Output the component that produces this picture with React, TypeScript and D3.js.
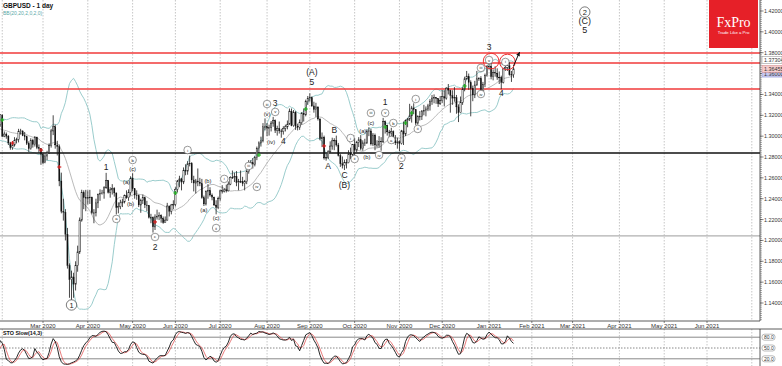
import React from 'react'
import * as d3 from 'd3'

type Candle = [number, number, number, number] // open, high, low, close

// daily candles, one array per month (weekdays only)
const jan2020: Candle[] = [
  [1.3250, 1.3285, 1.3120, 1.3150], [1.3150, 1.3155, 1.3050, 1.3085], [1.3085, 1.3180, 1.3070, 1.3155],
  [1.3155, 1.3215, 1.3100, 1.3110], [1.3110, 1.3140, 1.3070, 1.3100], [1.3100, 1.3120, 1.3050, 1.3065],
  [1.3065, 1.3120, 1.3035, 1.3060], [1.3060, 1.3070, 1.2960, 1.2990], [1.2990, 1.3045, 1.2955, 1.3020],
  [1.3020, 1.3060, 1.2995, 1.3045], [1.3045, 1.3085, 1.3025, 1.3070], [1.3070, 1.3090, 1.3000, 1.3010],
  [1.3010, 1.3025, 1.2980, 1.3000], [1.3000, 1.3070, 1.2960, 1.3045], [1.3045, 1.3135, 1.3030, 1.3120],
  [1.3120, 1.3150, 1.3080, 1.3115], [1.3115, 1.3130, 1.3045, 1.3075], [1.3075, 1.3090, 1.3040, 1.3065],
  [1.3065, 1.3070, 1.2995, 1.3010], [1.3010, 1.3045, 1.2980, 1.3005], [1.3005, 1.3120, 1.2980, 1.3110],
  [1.3110, 1.3210, 1.3090, 1.3205],
]
const feb2020: Candle[] = [
  [1.3200, 1.3210, 1.2990, 1.3000], [1.3000, 1.3045, 1.2990, 1.3020], [1.3020, 1.3035, 1.2975, 1.3000],
  [1.3000, 1.3010, 1.2915, 1.2935], [1.2935, 1.2945, 1.2870, 1.2890], [1.2890, 1.2940, 1.2870, 1.2915],
  [1.2915, 1.2990, 1.2900, 1.2960], [1.2960, 1.2985, 1.2930, 1.2970], [1.2970, 1.3070, 1.2940, 1.3045],
  [1.3045, 1.3070, 1.3015, 1.3050], [1.3050, 1.3055, 1.3000, 1.3005], [1.3005, 1.3040, 1.2960, 1.2995],
  [1.2995, 1.3005, 1.2915, 1.2930], [1.2930, 1.2950, 1.2850, 1.2880], [1.2880, 1.2980, 1.2870, 1.2960],
  [1.2960, 1.2975, 1.2890, 1.2920], [1.2920, 1.3000, 1.2900, 1.2990], [1.2990, 1.2995, 1.2875, 1.2890],
  [1.2890, 1.2920, 1.2840, 1.2880], [1.2880, 1.2885, 1.2725, 1.2825],
]
const mar2020: Candle[] = [
  [1.2825, 1.2840, 1.2730, 1.2745], [1.2745, 1.2830, 1.2740, 1.2810], [1.2810, 1.2860, 1.2770, 1.2840],
  [1.2840, 1.2930, 1.2830, 1.2910], [1.2910, 1.3070, 1.2890, 1.3050], [1.3050, 1.3200, 1.3010, 1.3090],
  [1.3090, 1.3110, 1.2880, 1.2915], [1.2915, 1.2955, 1.2815, 1.2900], [1.2900, 1.2920, 1.2520, 1.2570],
  [1.2570, 1.2650, 1.2260, 1.2280], [1.2280, 1.2400, 1.2190, 1.2270], [1.2270, 1.2300, 1.2000, 1.2060],
  [1.2060, 1.2120, 1.1730, 1.1760], [1.1760, 1.1780, 1.1450, 1.1625], [1.1625, 1.1710, 1.1409, 1.1650],
  [1.1650, 1.1690, 1.1450, 1.1580], [1.1580, 1.1800, 1.1520, 1.1760], [1.1760, 1.1950, 1.1700, 1.1890],
  [1.1890, 1.2220, 1.1870, 1.2195], [1.2195, 1.2486, 1.2180, 1.2460], [1.2460, 1.2480, 1.2300, 1.2410],
  [1.2410, 1.2485, 1.2280, 1.2405],
]
const apr2020: Candle[] = [
  [1.2405, 1.2480, 1.2345, 1.2410], [1.2410, 1.2485, 1.2350, 1.2415], [1.2415, 1.2420, 1.2250, 1.2265],
  [1.2265, 1.2300, 1.2165, 1.2265], [1.2265, 1.2400, 1.2230, 1.2360], [1.2360, 1.2450, 1.2310, 1.2440],
  [1.2440, 1.2490, 1.2380, 1.2450], [1.2450, 1.2485, 1.2440, 1.2455], [1.2455, 1.2520, 1.2400, 1.2505],
  [1.2505, 1.2648, 1.2495, 1.2575], [1.2575, 1.2580, 1.2450, 1.2460], [1.2460, 1.2510, 1.2410, 1.2485],
  [1.2485, 1.2540, 1.2440, 1.2500], [1.2500, 1.2510, 1.2420, 1.2455], [1.2455, 1.2460, 1.2250, 1.2315],
  [1.2315, 1.2365, 1.2260, 1.2325], [1.2325, 1.2390, 1.2300, 1.2360], [1.2360, 1.2400, 1.2320, 1.2370],
  [1.2370, 1.2440, 1.2355, 1.2430], [1.2430, 1.2480, 1.2400, 1.2410], [1.2410, 1.2490, 1.2380, 1.2460],
  [1.2460, 1.2615, 1.2430, 1.2595],
]
const may2020: Candle[] = [
  [1.2595, 1.2645, 1.2470, 1.2495], [1.2495, 1.2500, 1.2400, 1.2435], [1.2435, 1.2480, 1.2390, 1.2430],
  [1.2430, 1.2440, 1.2320, 1.2340], [1.2340, 1.2400, 1.2265, 1.2385], [1.2385, 1.2440, 1.2350, 1.2410],
  [1.2410, 1.2420, 1.2310, 1.2340], [1.2340, 1.2380, 1.2280, 1.2335], [1.2335, 1.2340, 1.2210, 1.2220],
  [1.2220, 1.2255, 1.2165, 1.2220], [1.2220, 1.2230, 1.2075, 1.2130], [1.2130, 1.2250, 1.2100, 1.2225],
  [1.2225, 1.2295, 1.2200, 1.2230], [1.2230, 1.2270, 1.2195, 1.2240], [1.2240, 1.2250, 1.2170, 1.2210],
  [1.2210, 1.2230, 1.2160, 1.2170], [1.2170, 1.2230, 1.2170, 1.2195], [1.2195, 1.2360, 1.2190, 1.2330],
  [1.2330, 1.2335, 1.2230, 1.2280], [1.2280, 1.2350, 1.2250, 1.2340], [1.2340, 1.2385, 1.2300, 1.2345],
]
const jun2020: Candle[] = [
  [1.2345, 1.2510, 1.2325, 1.2490], [1.2490, 1.2580, 1.2460, 1.2570], [1.2570, 1.2620, 1.2510, 1.2590],
  [1.2590, 1.2600, 1.2480, 1.2560], [1.2560, 1.2700, 1.2540, 1.2670], [1.2670, 1.2730, 1.2625, 1.2665],
  [1.2665, 1.2760, 1.2630, 1.2735], [1.2735, 1.2813, 1.2710, 1.2740], [1.2740, 1.2750, 1.2550, 1.2580],
  [1.2580, 1.2620, 1.2470, 1.2550], [1.2550, 1.2590, 1.2450, 1.2570], [1.2570, 1.2690, 1.2520, 1.2560],
  [1.2560, 1.2600, 1.2520, 1.2545], [1.2545, 1.2590, 1.2400, 1.2410], [1.2410, 1.2430, 1.2330, 1.2350],
  [1.2350, 1.2480, 1.2335, 1.2470], [1.2470, 1.2540, 1.2400, 1.2480], [1.2480, 1.2510, 1.2420, 1.2435],
  [1.2435, 1.2450, 1.2385, 1.2415], [1.2415, 1.2420, 1.2330, 1.2340], [1.2340, 1.2385, 1.2250, 1.2315],
  [1.2315, 1.2420, 1.2300, 1.2400],
]
const jul2020: Candle[] = [
  [1.2400, 1.2485, 1.2380, 1.2475], [1.2475, 1.2530, 1.2450, 1.2470], [1.2470, 1.2500, 1.2460, 1.2485],
  [1.2485, 1.2535, 1.2460, 1.2475], [1.2475, 1.2565, 1.2470, 1.2540], [1.2540, 1.2615, 1.2530, 1.2605],
  [1.2605, 1.2670, 1.2590, 1.2605], [1.2605, 1.2650, 1.2560, 1.2615], [1.2615, 1.2665, 1.2520, 1.2555],
  [1.2555, 1.2590, 1.2480, 1.2565], [1.2565, 1.2670, 1.2550, 1.2565], [1.2565, 1.2610, 1.2520, 1.2545],
  [1.2545, 1.2580, 1.2480, 1.2565], [1.2565, 1.2680, 1.2540, 1.2660], [1.2660, 1.2770, 1.2640, 1.2735],
  [1.2735, 1.2770, 1.2700, 1.2745], [1.2745, 1.2790, 1.2690, 1.2730], [1.2730, 1.2810, 1.2710, 1.2795],
  [1.2795, 1.2900, 1.2770, 1.2880], [1.2880, 1.2950, 1.2835, 1.2935], [1.2935, 1.2995, 1.2900, 1.2955],
  [1.2955, 1.3125, 1.2940, 1.3090], [1.3090, 1.3170, 1.3055, 1.3090],
]
const aug2020: Candle[] = [
  [1.3090, 1.3125, 1.3000, 1.3075], [1.3075, 1.3110, 1.3005, 1.3085], [1.3085, 1.3145, 1.3045, 1.3125],
  [1.3125, 1.3185, 1.3090, 1.3150], [1.3150, 1.3160, 1.3030, 1.3055], [1.3055, 1.3100, 1.3005, 1.3075],
  [1.3075, 1.3140, 1.3025, 1.3050], [1.3050, 1.3070, 1.2985, 1.3045], [1.3045, 1.3095, 1.3015, 1.3075],
  [1.3075, 1.3110, 1.3045, 1.3090], [1.3090, 1.3150, 1.3065, 1.3115], [1.3115, 1.3265, 1.3110, 1.3240],
  [1.3240, 1.3265, 1.3095, 1.3100], [1.3100, 1.3250, 1.3090, 1.3230], [1.3230, 1.3240, 1.3060, 1.3095],
  [1.3095, 1.3120, 1.3055, 1.3085], [1.3085, 1.3160, 1.3060, 1.3130], [1.3130, 1.3230, 1.3110, 1.3220],
  [1.3220, 1.3265, 1.3140, 1.3205], [1.3205, 1.3350, 1.3190, 1.3330], [1.3330, 1.3385, 1.3300, 1.3360],
]
const sep2020: Candle[] = [
  [1.3360, 1.3410, 1.3330, 1.3370], [1.3370, 1.3380, 1.3280, 1.3290], [1.3290, 1.3330, 1.3225, 1.3255],
  [1.3255, 1.3320, 1.3185, 1.3280], [1.3280, 1.3285, 1.3150, 1.3165], [1.3165, 1.3170, 1.2960, 1.2975],
  [1.2975, 1.3035, 1.2895, 1.2990], [1.2990, 1.3005, 1.2775, 1.2790], [1.2790, 1.2830, 1.2765, 1.2795],
  [1.2795, 1.2865, 1.2780, 1.2850], [1.2850, 1.2950, 1.2840, 1.2905], [1.2905, 1.2985, 1.2870, 1.2955],
  [1.2955, 1.2980, 1.2865, 1.2960], [1.2960, 1.3005, 1.2900, 1.2915], [1.2915, 1.2935, 1.2805, 1.2815],
  [1.2815, 1.2830, 1.2705, 1.2735], [1.2735, 1.2805, 1.2690, 1.2720], [1.2720, 1.2775, 1.2675, 1.2745],
  [1.2745, 1.2780, 1.2690, 1.2745], [1.2745, 1.2865, 1.2740, 1.2830], [1.2830, 1.2890, 1.2780, 1.2820],
  [1.2820, 1.2925, 1.2805, 1.2920],
]
const oct2020: Candle[] = [
  [1.2920, 1.2980, 1.2805, 1.2865], [1.2865, 1.2955, 1.2845, 1.2940], [1.2940, 1.2990, 1.2895, 1.2965],
  [1.2965, 1.3010, 1.2865, 1.2880], [1.2880, 1.2960, 1.2860, 1.2935], [1.2935, 1.2975, 1.2905, 1.2935],
  [1.2935, 1.3065, 1.2925, 1.3045], [1.3045, 1.3085, 1.3000, 1.3050], [1.3050, 1.3070, 1.2910, 1.2925],
  [1.2925, 1.3030, 1.2905, 1.3010], [1.3010, 1.3025, 1.2865, 1.2915], [1.2915, 1.2960, 1.2890, 1.2915],
  [1.2915, 1.3000, 1.2890, 1.2950], [1.2950, 1.2990, 1.2860, 1.2945], [1.2945, 1.3175, 1.2935, 1.3140],
  [1.3140, 1.3150, 1.3025, 1.3105], [1.3105, 1.3110, 1.3005, 1.3040], [1.3040, 1.3060, 1.2985, 1.3030],
  [1.3030, 1.3080, 1.2995, 1.3045], [1.3045, 1.3055, 1.2930, 1.2960], [1.2960, 1.3010, 1.2915, 1.2935],
  [1.2935, 1.2985, 1.2880, 1.2945],
]
const nov2020: Candle[] = [
  [1.2945, 1.2960, 1.2855, 1.2930], [1.2930, 1.3060, 1.2920, 1.3050], [1.3050, 1.3140, 1.2915, 1.3020],
  [1.3020, 1.3160, 1.3000, 1.3150], [1.3150, 1.3175, 1.3085, 1.3165], [1.3165, 1.3310, 1.3145, 1.3195],
  [1.3195, 1.3290, 1.3130, 1.3270], [1.3270, 1.3315, 1.3210, 1.3255], [1.3255, 1.3260, 1.3105, 1.3125],
  [1.3125, 1.3200, 1.3110, 1.3190], [1.3190, 1.3240, 1.3150, 1.3190], [1.3190, 1.3250, 1.3155, 1.3240],
  [1.3240, 1.3300, 1.3200, 1.3245], [1.3245, 1.3285, 1.3190, 1.3260], [1.3260, 1.3310, 1.3240, 1.3290],
  [1.3290, 1.3355, 1.3245, 1.3335], [1.3335, 1.3395, 1.3300, 1.3365], [1.3365, 1.3400, 1.3315, 1.3370],
  [1.3370, 1.3375, 1.3310, 1.3360], [1.3360, 1.3365, 1.3280, 1.3310], [1.3310, 1.3385, 1.3300, 1.3340],
]
const dec2020: Candle[] = [
  [1.3340, 1.3440, 1.3320, 1.3380], [1.3380, 1.3440, 1.3285, 1.3365], [1.3365, 1.3470, 1.3350, 1.3460],
  [1.3460, 1.3500, 1.3400, 1.3440], [1.3440, 1.3445, 1.3225, 1.3390], [1.3390, 1.3440, 1.3300, 1.3365],
  [1.3365, 1.3470, 1.3330, 1.3370], [1.3370, 1.3395, 1.3215, 1.3280], [1.3280, 1.3305, 1.3135, 1.3225],
  [1.3225, 1.3380, 1.3220, 1.3325], [1.3325, 1.3470, 1.3300, 1.3450], [1.3450, 1.3570, 1.3430, 1.3550],
  [1.3550, 1.3625, 1.3540, 1.3575], [1.3575, 1.3600, 1.3445, 1.3515], [1.3515, 1.3535, 1.3190, 1.3455],
  [1.3455, 1.3485, 1.3335, 1.3395], [1.3395, 1.3530, 1.3365, 1.3490], [1.3490, 1.3625, 1.3485, 1.3550],
  [1.3550, 1.3565, 1.3530, 1.3555], [1.3555, 1.3575, 1.3435, 1.3445], [1.3445, 1.3520, 1.3410, 1.3495],
  [1.3495, 1.3600, 1.3470, 1.3580], [1.3580, 1.3680, 1.3570, 1.3670],
]
const jan2021: Candle[] = [
  [1.3670, 1.3700, 1.3640, 1.3670], [1.3670, 1.3705, 1.3545, 1.3570], [1.3570, 1.3640, 1.3535, 1.3610],
  [1.3610, 1.3670, 1.3570, 1.3605], [1.3605, 1.3650, 1.3540, 1.3565], [1.3565, 1.3620, 1.3500, 1.3565],
  [1.3565, 1.3580, 1.3450, 1.3515], [1.3515, 1.3655, 1.3505, 1.3645], [1.3645, 1.3710, 1.3625, 1.3660],
  [1.3660, 1.3710, 1.3625, 1.3675], [1.3675, 1.3710, 1.3580, 1.3590], [1.3590, 1.3625, 1.3520, 1.3590],
  [1.3590, 1.3675, 1.3560, 1.3645],
]

const months = [jan2020, feb2020, mar2020, apr2020, may2020, jun2020, jul2020, aug2020,
  sep2020, oct2020, nov2020, dec2020, jan2021]

const priceTicks = [1.14, 1.16, 1.18, 1.2, 1.22, 1.24, 1.26, 1.28, 1.3, 1.32, 1.34, 1.36, 1.38, 1.4, 1.42]
const gridMonths = ['2020-02', '2020-03', '2020-04', '2020-05', '2020-06', '2020-07', '2020-08', '2020-09',
  '2020-10', '2020-11', '2020-12', '2021-01', '2021-02', '2021-03', '2021-04', '2021-05', '2021-06', '2021-07']
const monthLabels = ['', 'Mar 2020', 'Apr 2020', 'May 2020', 'Jun 2020', 'Jul 2020', 'Aug 2020', 'Sep 2020',
  'Oct 2020', 'Nov 2020', 'Dec 2020', 'Jan 2021', 'Feb 2021', 'Mar 2021', 'Apr 2021', 'May 2021', 'Jun 2021', '']

const redLevels = [1.3797, 1.3701, 1.3452]
const blackLevel = 1.2839
const grayLevel = 1.2043
const stoLevels = [80, 50, 20]

// wave labels: date, price, text, kind
const waves: [string, number, string, string][] = [
  ['2020-03-20', 1.1381, '1', 'cbig'],
  ['2020-04-14', 1.2704, '1', 'big'],
  ['2020-04-21', 1.2206, 'a', 'circ'],
  ['2020-04-28', 1.2560, '(a)', 'par'],
  ['2020-04-30', 1.2350, '(b)', 'par'],
  ['2020-05-01', 1.2771, 'b', 'circ'],
  ['2020-05-01', 1.2685, '(c)', 'par'],
  ['2020-05-18', 1.2033, 'c', 'circ'],
  ['2020-05-18', 1.1937, '2', 'big'],
  ['2020-06-09', 1.2867, 'i', 'circ'],
  ['2020-06-19', 1.2292, '(a)', 'par'],
  ['2020-06-23', 1.2570, '(b)', 'par'],
  ['2020-06-29', 1.2215, '(c)', 'par'],
  ['2020-06-29', 1.2119, 'ii', 'circ'],
  ['2020-07-03', 1.2590, 'i', 'circ'],
  ['2020-07-21', 1.2714, 'iii', 'circ'],
  ['2020-07-27', 1.2513, 'iv', 'circ'],
  ['2020-08-03', 1.3308, 'iii', 'circ'],
  ['2020-08-07', 1.3318, '3', 'big'],
  ['2020-08-03', 1.3213, '(v)', 'par'],
  ['2020-08-07', 1.3232, 'v', 'circ'],
  ['2020-08-05', 1.2944, '(iv)', 'par'],
  ['2020-08-13', 1.2954, '4', 'big'],
  ['2020-09-02', 1.3615, '(A)', 'big'],
  ['2020-09-02', 1.3519, '5', 'big'],
  ['2020-09-14', 1.2714, 'A', 'big'],
  ['2020-09-17', 1.3059, 'B', 'big'],
  ['2020-09-24', 1.2628, 'C', 'big'],
  ['2020-09-24', 1.2532, '(B)', 'big'],
  ['2020-09-29', 1.2982, 'i', 'circ'],
  ['2020-10-01', 1.2781, 'ii', 'circ'],
  ['2020-10-07', 1.3049, '(a)', 'par'],
  ['2020-10-09', 1.2800, '(b)', 'par'],
  ['2020-10-13', 1.3126, '(c)', 'par'],
  ['2020-10-13', 1.3222, 'iii', 'circ'],
  ['2020-10-19', 1.2819, 'iv', 'circ'],
  ['2020-10-22', 1.3327, '1', 'big'],
  ['2020-10-22', 1.3222, 'v', 'circ'],
  ['2020-10-27', 1.2963, 'a', 'circ'],
  ['2020-10-28', 1.3126, 'b', 'circ'],
  ['2020-11-03', 1.2791, 'c', 'circ'],
  ['2020-11-03', 1.2714, '2', 'big'],
  ['2020-11-12', 1.3356, 'i', 'circ'],
  ['2020-11-13', 1.3069, 'ii', 'circ'],
  ['2020-12-28', 1.3654, 'iii', 'circ'],
  ['2020-12-28', 1.3404, 'iv', 'circ'],
  ['2021-01-01', 1.3855, '3', 'big'],
  ['2021-01-01', 1.3730, 'v', 'circ'],
  ['2021-01-11', 1.3414, '4', 'big'],
  ['2021-01-13', 1.3711, 'i', 'circ'],
  ['2021-03-09', 1.4190, '2', 'cbig'],
  ['2021-03-09', 1.4104, '(C)', 'big2'],
  ['2021-03-09', 1.4018, '5', 'big2'],
]

// signal markers: colour, date, price
const markers: [string, string, number][] = [
  ['g', '2020-02-03', 1.3155], ['r', '2020-02-10', 1.2934], ['r', '2020-02-28', 1.2867],
  ['r', '2020-03-12', 1.2704], ['r', '2020-05-18', 1.2177], ['g', '2020-06-01', 1.2455],
  ['g', '2020-07-28', 1.2819], ['g', '2020-08-28', 1.3260], ['r', '2020-09-10', 1.2906],
  ['g', '2020-10-22', 1.3088], ['g', '2020-11-05', 1.3126], ['g', '2020-11-10', 1.3222],
  ['g', '2020-12-16', 1.3481],
]

const redCircles: [string, number][] = [['2021-01-04', 1.3720], ['2021-01-14', 1.3711]]
const arrowPts: [string, number][] = [['2021-01-19', 1.3673], ['2021-01-22', 1.3807]]

// weekday calendar from 2 Jan 2020
const days: string[] = []
{
  let t = Date.UTC(2020, 0, 2)
  while (days.length < 400) {
    const d = new Date(t)
    if (d.getUTCDay() !== 0 && d.getUTCDay() !== 6) days.push(d.toISOString().slice(0, 10))
    t += 86400000
  }
}
const idxOf = new Map(days.map((d, i) => [d, i]))
const idx = (d: string) => idxOf.get(d) as number

const candles = months.flat()
const closes = candles.map(c => c[3])

// Bollinger bands 20, 2
const bb = candles.map((c, i) => {
  if (i < 19) return null
  const w = closes.slice(i - 19, i + 1)
  const m = d3.mean(w) as number
  const sd = Math.sqrt(d3.mean(w, v => (v - m) * (v - m)) as number)
  return { i, m, up: m + 2 * sd, lo: m - 2 * sd }
}).filter(Boolean) as { i: number; m: number; up: number; lo: number }[]

// slow stochastic 14,3
const hh = candles.map((c, i) => i < 13 ? NaN : (d3.max(candles.slice(i - 13, i + 1), d => d[1]) as number))
const ll = candles.map((c, i) => i < 13 ? NaN : (d3.min(candles.slice(i - 13, i + 1), d => d[2]) as number))
const kLine: { i: number; v: number }[] = []
for (let i = 15; i < candles.length; i++) {
  let num = 0, den = 0
  for (let j = i - 2; j <= i; j++) { num += closes[j] - ll[j]; den += hh[j] - ll[j] }
  kLine.push({ i, v: den ? (100 * num) / den : 50 })
}
const dLine = kLine.slice(2).map((k, n) => ({ i: k.i, v: (kLine[n].v + kLine[n + 1].v + k.v) / 3 }))

const W = 782
const H = 366
const right = 760
const mainBottom = 321
const stoTop = 329

const x = d3.scaleLinear().domain([idx('2020-03-02'), idx('2021-06-01')]).range([43, 707])
const y = d3.scaleLinear().domain([1.14, 1.42]).range([303, 11])
const ys = d3.scaleLinear().domain([0, 100]).range([366, 330])

const FONT = '"Liberation Sans", Arial, sans-serif'

function Wave({ d, p, t, k }: { d: string; p: number; t: string; k: string }) {
  const cx = x(idx(d))
  const cy = y(p)
  if (k === 'circ') {
    return (
      <g>
        <circle cx={cx} cy={cy} r={3.8} fill="#fff" stroke="#555" strokeWidth={0.6} />
        <text x={cx} y={cy + 1.5} fontSize={4.2} textAnchor="middle" fill="#222">{t}</text>
      </g>
    )
  }
  if (k === 'cbig') {
    return (
      <g>
        <circle cx={cx} cy={cy} r={5.2} fill="#fff" stroke="#444" strokeWidth={0.7} />
        <text x={cx} y={cy + 2.6} fontSize={7.5} textAnchor="middle" fill="#222">{t}</text>
      </g>
    )
  }
  const fs = k === 'par' ? 5.8 : k === 'big2' ? 9 : 8.5
  return <text x={cx} y={cy + fs * 0.36} fontSize={fs} textAnchor="middle" fill="#222">{t}</text>
}

export default function App() {
  const bw = 1.3
  const minor = d3.range(1.124, 1.431, 0.002)
  const lineM = d3.line<{ i: number; m: number }>().x(d => x(d.i)).y(d => y(d.m))
  const lineU = d3.line<{ i: number; up: number }>().x(d => x(d.i)).y(d => y(d.up))
  const lineL = d3.line<{ i: number; lo: number }>().x(d => x(d.i)).y(d => y(d.lo))
  const stoL = d3.line<{ i: number; v: number }>().x(d => x(d.i)).y(d => ys(d.v))
  const gridX = gridMonths.map(m => x(days.findIndex(d => d.startsWith(m))))
  const a0x = x(idx(arrowPts[0][0])), a0y = y(arrowPts[0][1])
  const a1x = x(idx(arrowPts[1][0])), a1y = y(arrowPts[1][1])
  const ang = Math.atan2(a1y - a0y, a1x - a0x)
  const head = [
    [a1x, a1y],
    [a1x - 4 * Math.cos(ang) + 2 * Math.sin(ang), a1y - 4 * Math.sin(ang) - 2 * Math.cos(ang)],
    [a1x - 4 * Math.cos(ang) - 2 * Math.sin(ang), a1y - 4 * Math.sin(ang) + 2 * Math.cos(ang)],
  ]

  return (
    <svg width={W} height={H} style={{ position: 'absolute', left: 0, top: 0, background: '#fff' }}
      fontFamily={FONT}>
      <defs>
        <clipPath id="main"><rect x={0} y={0} width={right} height={mainBottom} /></clipPath>
        <clipPath id="sto"><rect x={0} y={stoTop} width={right} height={H - stoTop} /></clipPath>
      </defs>

      {/* month grid */}
      {gridX.map((gx, i) => (
        <g key={i} stroke="#b8b8b8" strokeWidth={0.8} strokeDasharray="1.5,1.5">
          <line x1={gx} x2={gx} y1={0} y2={mainBottom} />
          <line x1={gx} x2={gx} y1={stoTop} y2={H} />
        </g>
      ))}

      <g clipPath="url(#main)">
        {/* Bollinger bands */}
        <path d={lineM(bb) || ''} fill="none" stroke="#a8a8a8" strokeWidth={0.8} />
        <path d={lineU(bb) || ''} fill="none" stroke="#8ec6c6" strokeWidth={0.9} />
        <path d={lineL(bb) || ''} fill="none" stroke="#8ec6c6" strokeWidth={0.9} />

        {/* levels */}
        {redLevels.map((p, i) => (
          <line key={i} x1={0} x2={right} y1={y(p)} y2={y(p)} stroke="#f03a3a" strokeWidth={1.6} />
        ))}
        <line x1={0} x2={right} y1={y(blackLevel)} y2={y(blackLevel)} stroke="#111" strokeWidth={1.5} />
        <line x1={0} x2={right} y1={y(grayLevel)} y2={y(grayLevel)} stroke="#b0b0b0" strokeWidth={1.2} />

        {/* candles */}
        {candles.map((c, i) => {
          const cx = x(i)
          const up = c[3] >= c[0]
          const top = y(Math.max(c[0], c[3]))
          const bot = y(Math.min(c[0], c[3]))
          return (
            <g key={i}>
              <line x1={cx} x2={cx} y1={y(c[1])} y2={y(c[2])} stroke="#1a1a1a" strokeWidth={0.8} />
              <rect x={cx - bw / 2} y={top} width={bw} height={Math.max(bot - top, 0.6)}
                fill={up ? '#fff' : '#111'} stroke="#111" strokeWidth={up ? 0.5 : 0.2} />
            </g>
          )
        })}

        {/* markers */}
        {markers.map(([c, d, p], i) => {
          const mx = x(idx(d)), my = y(p)
          const col = c === 'g' ? '#22b022' : '#d42020'
          return (
            <g key={i} stroke={col} strokeWidth={1.2}>
              <line x1={mx - 2} x2={mx + 2} y1={my} y2={my} />
              <line x1={mx} x2={mx} y1={my - 2} y2={my + 2} />
            </g>
          )
        })}

        {/* red circles */}
        {redCircles.map(([d, p], i) => (
          <circle key={i} cx={x(idx(d))} cy={y(p)} r={7.8} fill="none" stroke="#ee3333" strokeWidth={1} />
        ))}

        {/* wave labels */}
        {waves.map(([d, p, t, k], i) => <Wave key={i} d={d} p={p} t={t} k={k} />)}

        {/* arrow */}
        <line x1={a0x} y1={a0y} x2={a1x} y2={a1y} stroke="#111" strokeWidth={1} />
        <polygon points={head.map(h => h.join(',')).join(' ')} fill="#111" />
      </g>

      {/* title */}
      <text x={3} y={7.5} fontSize={6.5} fontWeight="bold" fill="#111">GBPUSD - 1 day</text>
      <text x={3} y={14.5} fontSize={5} fill="#5aa8a8">BB(20,20,2,0,2,0)</text>

      {/* FxPro badge */}
      <rect x={709} y={0} width={49} height={48} fill="#e62028" />
      <text x={733.5} y={27} fontSize={14} fill="#fff" textAnchor="middle"
        fontFamily='"Liberation Serif", "DejaVu Serif", serif'>FxPro</text>
      <text x={733.5} y={33.5} fontSize={4.3} fill="#fff" textAnchor="middle">Trade Like a Pro</text>

      {/* price axis */}
      <line x1={right} x2={right} y1={0} y2={mainBottom} stroke="#333" strokeWidth={0.8} />
      {minor.map((p, i) => (y(p) > 0 && y(p) < mainBottom ? (
        <line key={i} x1={right} x2={right + 2} y1={y(p)} y2={y(p)} stroke="#555" strokeWidth={0.5} />
      ) : null))}
      {priceTicks.map((p, i) => (
        <g key={i}>
          <line x1={right} x2={right + 3.5} y1={y(p)} y2={y(p)} stroke="#333" strokeWidth={0.6} />
          <text x={right + 4} y={y(p) + 2} fontSize={5.4} fill="#333">{p.toFixed(5)}</text>
        </g>
      ))}
      <g fontSize={5.4}>
        <rect x={right + 2} y={y(1.36) - 3.5} width={20} height={7} fill="#c6c8f0" stroke="#8890d0" strokeWidth={0.5} />
        <text x={right + 4} y={y(1.36) + 2} fill="#333">1.36000</text>
        <rect x={right + 2} y={y(1.36455) - 3.5} width={20} height={7} fill="#f5cccc" stroke="#d08888" strokeWidth={0.5} />
        <text x={right + 4} y={y(1.36455) + 2} fill="#333">1.36455</text>
        <rect x={right + 2} y={y(1.37304) - 3.5} width={20} height={7} fill="#fff" stroke="#888" strokeWidth={0.5} />
        <text x={right + 4} y={y(1.37304) + 2} fill="#333">1.37304</text>
      </g>

      {/* date axis */}
      <line x1={0} x2={right} y1={mainBottom} y2={mainBottom} stroke="#333" strokeWidth={0.8} />
      {gridX.map((gx, i) => monthLabels[i] ? (
        <g key={i}>
          <line x1={gx} x2={gx} y1={mainBottom} y2={mainBottom + 2} stroke="#333" strokeWidth={0.6} />
          <text x={gx} y={mainBottom + 6.5} fontSize={6} textAnchor="middle" fill="#333">{monthLabels[i]}</text>
        </g>
      ) : null)}

      {/* stochastic panel */}
      <line x1={0} x2={W} y1={stoTop} y2={stoTop} stroke="#333" strokeWidth={0.8} />
      <line x1={right} x2={right} y1={stoTop} y2={H} stroke="#333" strokeWidth={0.8} />
      {stoLevels.map((v, i) => (
        <g key={i}>
          <line x1={0} x2={right} y1={ys(v)} y2={ys(v)} stroke="#6a6a6a" strokeWidth={0.8}
            strokeDasharray={v === 50 ? '1.5,1.5' : undefined} />
          <rect x={right + 2} y={ys(v) - 3} width={13} height={6} rx={2.5} fill="#fff" stroke="#777" strokeWidth={0.5} />
          <text x={right + 4} y={ys(v) + 1.8} fontSize={5} fill="#333">{v.toFixed(1)}</text>
        </g>
      ))}
      <g clipPath="url(#sto)">
        <path d={stoL(dLine) || ''} fill="none" stroke="#e04040" strokeWidth={0.7} />
        <path d={stoL(kLine) || ''} fill="none" stroke="#111" strokeWidth={0.9} />
      </g>
      <text x={3} y={335} fontSize={5.4} fontWeight="bold" fill="#111">STO Slow(14,3)</text>
    </svg>
  )
}
